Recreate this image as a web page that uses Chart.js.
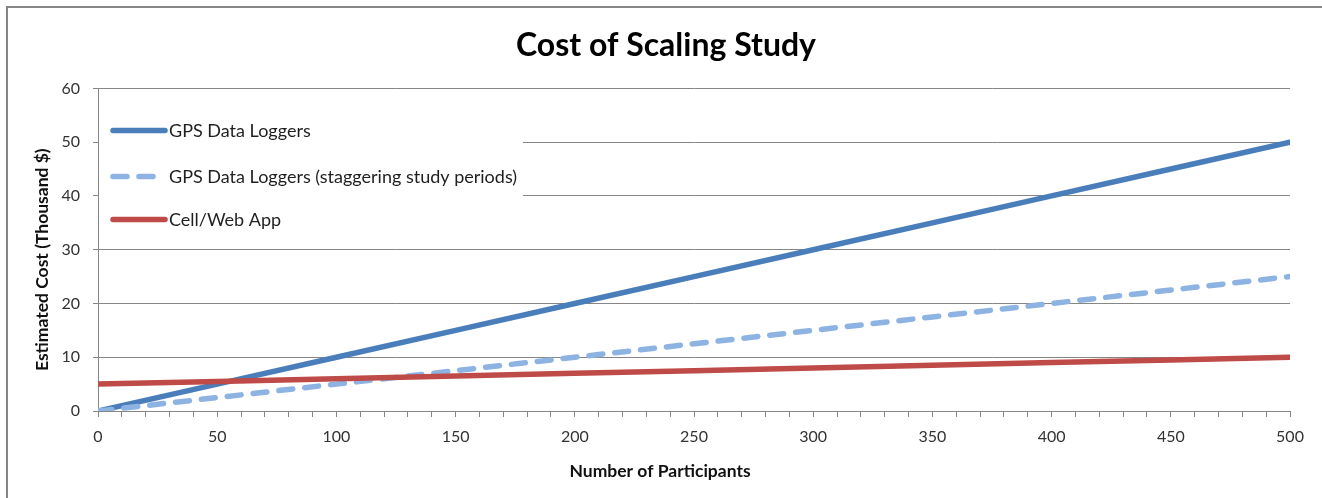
<!DOCTYPE html>
<html>
<head>
<meta charset="utf-8">
<title>Cost of Scaling Study</title>
<script src="https://cdn.jsdelivr.net/npm/chart.js@4"></script>
<style>
  html, body { margin: 0; padding: 0; background: #fff; }
  #wrap { position: relative; width: 1322px; height: 498px; overflow: hidden; }
  #frame {
    position: absolute; left: 6px; top: 6px; right: -10px; bottom: -10px;
    border-left: 2px solid #868686; border-top: 2px solid #868686;
    pointer-events: none;
  }
</style>
</head>
<body>
<div id="wrap">
  <canvas id="costChart" width="1322" height="498"></canvas>
  <div id="frame"></div>
</div>
<script>
// Participants on the x axis, cost in thousand dollars on the y axis
const participants = [0, 50, 100, 150, 200, 250, 300, 350, 400, 450, 500];
const gpsLoggers   = [0, 5, 10, 15, 20, 25, 30, 35, 40, 45, 50];
const gpsStaggered = [0, 2.5, 5, 7.5, 10, 12.5, 15, 17.5, 20, 22.5, 25];
const cellWebApp   = [5, 5.5, 6, 6.5, 7, 7.5, 8, 8.5, 9, 9.5, 10];

const seriesNames = ['GPS Data Loggers', 'GPS Data Loggers (staggering study periods)', 'Cell/Web App'];
const xTitle = 'Number of Participants';
const yTitle = 'Estimated Cost (Thousand $)';
const xLabelEvery = 50;   // labelled x ticks; minor ticks every 10
const yMax = 60;

const FONT = 'Lato, "Open Sans", sans-serif';
const GRID = '#868686';

const toPoints = ys => participants.map((x, i) => ({ x: x, y: ys[i] }));

// legend box sitting inside the plot, top-left, over the gridlines
const insideLegend = {
    id: 'insideLegend',
    beforeDatasetsDraw(chart) {
        const ctx = chart.ctx;
        const area = chart.chartArea;
        const left = area.left + 1;
        ctx.save();
        ctx.fillStyle = '#fff';
        ctx.fillRect(left, area.top + 12, 424, 138);

        const rows = [42, 88, 131];
        chart.data.datasets.forEach((ds, i) => {
            const y = area.top + rows[i];
            ctx.beginPath();
            ctx.lineWidth = ds.borderWidth;
            ctx.strokeStyle = ds.borderColor;
            ctx.lineCap = 'round';
            ctx.setLineDash(ds.borderDash || []);
            ctx.moveTo(left + 14, y);
            ctx.lineTo(left + 66, y);
            ctx.stroke();
            ctx.setLineDash([]);
            ctx.fillStyle = '#1f1f1f';
            ctx.font = '18px ' + FONT;
            ctx.textBaseline = 'middle';
            ctx.fillText(ds.label, left + 70, y + 1);
        });
        ctx.restore();
    }
};

// axis titles sit a little off the plot centre, and the main title is
// centred on the whole frame rather than on the padded layout
const axisTitles = {
    id: 'axisTitles',
    afterLayout(chart) {
        chart.titleBlock.right = chart.width + 10;
    },
    afterDraw(chart) {
        const ctx = chart.ctx;
        const area = chart.chartArea;
        ctx.save();
        ctx.fillStyle = '#111';
        ctx.font = 'bold 17.5px ' + FONT;
        ctx.textAlign = 'center';
        ctx.textBaseline = 'middle';
        ctx.fillText(xTitle, area.left + 0.4715 * area.width, 471);

        ctx.translate(42, area.top + 0.531 * area.height);
        ctx.rotate(-Math.PI / 2);
        ctx.fillText(yTitle, 0, 0);
        ctx.restore();
    }
};

const ctx = document.getElementById('costChart').getContext('2d');
const costChart = new Chart(ctx, {
    type: 'line',
    data: {
        datasets: [
            {
                label: seriesNames[0],
                data: toPoints(gpsLoggers),
                borderColor: '#4a7ebb',
                borderWidth: 5.5,
                borderCapStyle: 'round',
                pointRadius: 0,
                order: 2
            },
            {
                label: seriesNames[1],
                data: toPoints(gpsStaggered),
                borderColor: '#8db3e2',
                borderWidth: 5.5,
                borderDash: [14, 12],
                borderCapStyle: 'round',
                pointRadius: 0,
                order: 1
            },
            {
                label: seriesNames[2],
                data: toPoints(cellWebApp),
                borderColor: '#be4b48',
                borderWidth: 5.5,
                borderCapStyle: 'round',
                pointRadius: 0,
                order: 0
            }
        ]
    },
    options: {
        responsive: false,
        animation: false,
        layout: { padding: { left: 0, right: 32, top: 0, bottom: 0 } },
        plugins: {
            legend: { display: false },
            tooltip: { enabled: false },
            title: {
                display: true,
                text: 'Cost of Scaling Study',
                color: '#000',
                font: { family: FONT, size: 32, weight: 'bold', lineHeight: 1.2 },
                padding: { top: 26, bottom: 24 }
            }
        },
        scales: {
            x: {
                type: 'linear',
                min: participants[0],
                max: participants[participants.length - 1],
                afterFit(scale) { scale.height = 87; },
                border: { display: true, color: GRID, width: 1 },
                grid: { drawOnChartArea: false, color: GRID, tickLength: 6 },
                ticks: {
                    stepSize: 10,
                    autoSkip: false,
                    maxRotation: 0,
                    padding: 10,
                    color: '#333',
                    font: { family: FONT, size: 16 },
                    callback: v => (v % xLabelEvery === 0 ? v : '')
                }
            },
            y: {
                min: 0,
                max: yMax,
                afterFit(scale) { scale.width = 98; },
                border: { display: true, color: GRID, width: 1 },
                grid: { color: GRID, tickLength: 5 },
                ticks: {
                    stepSize: 10,
                    padding: 13,
                    color: '#333',
                    font: { family: FONT, size: 16 }
                }
            }
        }
    },
    plugins: [insideLegend, axisTitles]
});
</script>
</body>
</html>
